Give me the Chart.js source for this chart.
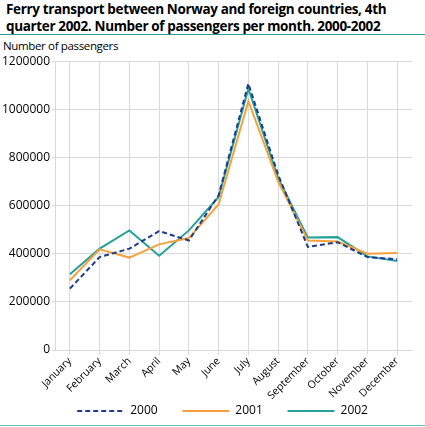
<!DOCTYPE html>
<html>
<head>
<meta charset="utf-8">
<script src="https://cdn.jsdelivr.net/npm/chart.js@4"></script>
<style>
    body { margin: 0; width: 425px; height: 427px; background: #fff; position: relative; overflow: hidden; font-family: 'Open Sans', sans-serif; color: #000; }
    #title { position: absolute; left: 6px; top: 1px; font-weight: bold; font-size: 13.5px; line-height: 16.5px; letter-spacing: -0.35px; }
    #rule-top { position: absolute; left: 0; top: 34px; width: 425px; height: 1px; background: #2a9a96; }
    #unit { position: absolute; left: 3px; top: 38px; font-size: 11.5px; letter-spacing: -0.35px; }
    #chart-box { position: absolute; left: 0; top: 52px; width: 425px; height: 375px; }
    #rule-bottom { position: absolute; left: 0; top: 425px; width: 425px; height: 1px; background: #5cc3c3; }
</style>
</head>
<body>
<div id="title">Ferry transport between Norway and foreign countries, 4th<br>quarter 2002. Number of passengers per month. 2000-2002</div>
<div id="rule-top"></div>
<div id="unit">Number of passengers</div>
<div id="chart-box"><canvas id="ferry-chart"></canvas></div>
<div id="rule-bottom"></div>
<script>
// Dados
const months = ['January', 'February', 'March', 'April', 'May', 'June', 'July', 'August', 'September', 'October', 'November', 'December'];
const passengers2000 = [255000, 386000, 421000, 494000, 455000, 643000, 1107000, 728000, 428000, 448000, 386000, 377000];
const passengers2001 = [290000, 418000, 384000, 439000, 465000, 606000, 1034000, 700000, 455000, 451000, 400000, 403000];
const passengers2002 = [315000, 421000, 497000, 392000, 497000, 636000, 1086000, 714000, 467000, 469000, 389000, 370000];
const yTicks = [0, 200000, 400000, 600000, 800000, 1000000, 1200000];

document.addEventListener('DOMContentLoaded', function() {
    const ctx = document.getElementById('ferry-chart');
    const gridColor = '#d9d9d9';

    new Chart(ctx, {
        type: 'line',
        data: {
            labels: months,
            datasets: [{
                label: '2000',
                data: passengers2000,
                borderColor: '#1f3c8c',
                borderWidth: 2,
                borderDash: [5, 3],
                pointRadius: 0,
                tension: 0
            }, {
                label: '2001',
                data: passengers2001,
                borderColor: '#f7a13c',
                borderWidth: 2,
                pointRadius: 0,
                tension: 0
            }, {
                label: '2002',
                data: passengers2002,
                borderColor: '#26a09a',
                borderWidth: 2,
                pointRadius: 0,
                tension: 0
            }]
        },
        options: {
            responsive: true,
            maintainAspectRatio: false,
            animation: false,
            layout: {
                padding: { left: 0, right: 13, top: 2, bottom: 0 }
            },
            plugins: {
                legend: {
                    position: 'bottom',
                    fullSize: false,
                    labels: {
                        usePointStyle: true,
                        pointStyle: 'line',
                        pointStyleWidth: 47,
                        padding: 6,
                        color: '#000',
                        font: { family: 'Open Sans', size: 12 },
                        // espaço extra entre os itens (e ajuste da centralização)
                        generateLabels: function(chart) {
                            const items = Chart.defaults.plugins.legend.labels.generateLabels(chart);
                            items.forEach((item, i) => {
                                item.lineDash = chart.data.datasets[i].borderDash || [];
                                item.text = item.text + (i < items.length - 1 ? '      ' : '       ');
                            });
                            return items;
                        }
                    }
                },
                tooltip: { enabled: false }
            },
            scales: {
                x: {
                    offset: true,
                    afterFit: function(scale) { scale.height = 49; },
                    grid: {
                        offset: false,
                        color: gridColor,
                        tickLength: 5
                    },
                    border: { color: gridColor },
                    ticks: {
                        minRotation: 45,
                        maxRotation: 45,
                        padding: 0,
                        color: '#000',
                        font: { family: 'Open Sans', size: 10.5 }
                    }
                },
                y: {
                    min: 0,
                    max: 1200000,
                    afterFit: function(scale) { scale.width = 55; },
                    afterBuildTicks: function(scale) {
                        scale.ticks = yTicks.map(v => ({ value: v }));
                    },
                    grid: {
                        color: gridColor,
                        tickLength: 3
                    },
                    border: { color: gridColor },
                    ticks: {
                        padding: 2,
                        color: '#000',
                        font: { family: 'Open Sans', size: 12 },
                        callback: function(value) { return String(value); }
                    }
                }
            }
        }
    });
});
</script>
</body>
</html>
